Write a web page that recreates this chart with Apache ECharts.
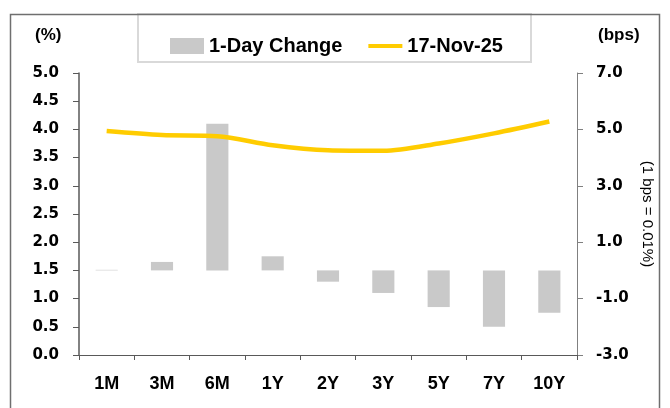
<!DOCTYPE html>
<html>
<head>
<meta charset="utf-8">
<script src="https://cdn.jsdelivr.net/npm/echarts@6/dist/echarts.min.js"></script>
<style>
  html, body { margin: 0; padding: 0; background: #fff; }
  #chart { width: 670px; height: 408px; }
</style>
</head>
<body>
<div id="chart"></div>
<script>
  // tenors on the x axis
  var tenors = ['1M', '3M', '6M', '1Y', '2Y', '3Y', '5Y', '7Y', '10Y']
  // yield curve, % (left axis)
  var yields = [3.97, 3.90, 3.88, 3.72, 3.63, 3.62, 3.75, 3.93, 4.14]
  // 1-day change, bps (right axis)
  var dayChange = [0.02, 0.3, 5.2, 0.5, -0.4, -0.8, -1.3, -2.0, -1.5]

  var FONT = '"Liberation Sans", Arial, sans-serif'
  var AXFONT = '"DejaVu Sans", sans-serif'
  var axisColor = '#595959'

  var chart = echarts.init(document.getElementById('chart'))

  var option = {
    animation: false,
    textStyle: { fontFamily: FONT },
    grid: { left: 79, right: 93, top: 73, bottom: 53 },
    legend: {
      left: 165,
      top: 31,
      itemWidth: 34,
      itemHeight: 16,
      itemGap: 26,
      textStyle: { fontFamily: FONT, fontSize: 20, fontWeight: 'bold', color: '#000' },
      data: [
        { name: '1-Day Change', icon: 'rect' },
        { name: '17-Nov-25', icon: 'path://M0,0H36V4H0Z' }
      ]
    },
    graphic: [
      {
        type: 'rect', shape: { x: 10.5, y: 14.5, width: 649, height: 420 },
        style: { fill: 'none', stroke: '#6f6f6f', lineWidth: 1.5 }, silent: true
      },
      {
        type: 'rect', shape: { x: 138, y: 14, width: 393, height: 48 },
        style: { fill: '#fff', stroke: '#d9d9d9', lineWidth: 2 }, silent: true, z: -1
      },
      {
        type: 'text', left: 35, top: 27,
        style: { text: '(%)', font: 'bold 17px ' + FONT, fill: '#000' }
      },
      {
        type: 'text', left: 598, top: 27,
        style: { text: '(bps)', font: 'bold 17px ' + FONT, fill: '#000' }
      }
    ],
    xAxis: {
      type: 'category',
      data: tenors,
      axisLine: { lineStyle: { color: axisColor, width: 1 } },
      axisTick: { show: true, length: 5, lineStyle: { color: axisColor } },
      axisLabel: { margin: 20, color: '#000', fontSize: 18, fontWeight: 'bold', fontFamily: FONT }
    },
    yAxis: [
      {
        type: 'value',
        min: 0, max: 5, interval: 0.5,
        position: 'left',
        splitLine: { show: false },
        axisLine: { show: true, lineStyle: { color: axisColor, width: 1.5 } },
        axisTick: { show: true, length: 6, lineStyle: { color: axisColor } },
        axisLabel: {
          margin: 20, color: '#000', fontSize: 15, fontWeight: 'bold', fontFamily: AXFONT,
          formatter: function (v) { return v.toFixed(1) }
        }
      },
      {
        type: 'value',
        min: -3, max: 7, interval: 2,
        position: 'right',
        splitLine: { show: false },
        name: '(1 bps = 0.01%)',
        nameLocation: 'middle',
        nameRotate: -90,
        nameGap: 57,
        nameTextStyle: { fontSize: 15, color: '#000', fontFamily: FONT },
        axisLine: { show: true, lineStyle: { color: '#808080', width: 1 } },
        axisTick: { show: true, length: 6, lineStyle: { color: '#808080' } },
        axisLabel: {
          margin: 19, color: '#000', fontSize: 15, fontWeight: 'bold', fontFamily: AXFONT,
          formatter: function (v) { return v.toFixed(1) }
        }
      }
    ],
    series: [
      {
        name: '1-Day Change',
        type: 'bar',
        yAxisIndex: 1,
        data: dayChange,
        barWidth: '40%',
        itemStyle: { color: '#c9c9c9' }
      },
      {
        name: '17-Nov-25',
        type: 'line',
        yAxisIndex: 0,
        data: yields,
        smooth: 0.3,
        symbol: 'none',
        lineStyle: { color: '#ffcc00', width: 4.5 },
        itemStyle: { color: '#ffcc00' }
      }
    ]
  }

  chart.setOption(option)
</script>
</body>
</html>
